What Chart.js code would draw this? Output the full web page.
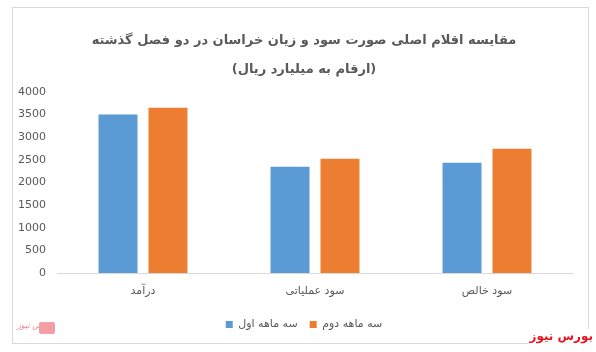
<!DOCTYPE html>
<html>
<head>
<meta charset="utf-8">
<script src="https://cdn.jsdelivr.net/npm/chart.js@4.4.1/dist/chart.umd.min.js"></script>
<style>
  html, body { margin:0; padding:0; background:#fff; }
  body { width:596px; height:352px; position:relative; overflow:hidden; }
  #frame { position:absolute; left:12px; top:7px; width:575px; height:335px; border:1px solid #d9d9d9; }
  #wrap { position:absolute; left:0; top:0; width:596px; height:352px; }
  #wm { position:absolute; right:3px; bottom:8px; font-family:"DejaVu Sans"; font-weight:bold; font-size:12px; color:#e8141e; direction:rtl; line-height:15px; background:#fff; }
  #logo { position:absolute; left:17px; top:321px; font-family:"DejaVu Sans"; font-size:8px; color:#f08a8f; direction:rtl; font-style:italic; }
  #logoBox { position:absolute; left:39px; top:322px; width:16px; height:12px; background:#f2a0a4; border-radius:2px; }
</style>
</head>
<body>
<div id="frame"></div>
<div id="wrap"><canvas id="c" width="596" height="352" dir="rtl"></canvas></div>
<div id="logo">بورس نیوز</div>
<div id="logoBox"></div>
<div id="wm">بورس نیوز</div>
<script>
const categories = ["درآمد", "سود عملیاتی", "سود خالص"];
const seriesNames = ["سه ماهه اول", "سه ماهه دوم"];
const q1Values = [3500, 2350, 2435];
const q2Values = [3650, 2525, 2745];
const titleLines = ["مقایسه اقلام اصلی صورت سود و زیان خراسان در دو فصل گذشته", "(ارقام به میلیارد ریال)"];

const GRAY = "#595959";
const shiftBlocks = {
  id: "shiftBlocks",
  afterLayout(chart) {
    if (chart.titleBlock) chart.titleBlock.left += 23;
    if (chart.legend) chart.legend.left += 23;
  }
};
new Chart(document.getElementById("c"), {
  type: "bar",
  data: {
    labels: categories,
    datasets: [
      { label: seriesNames[0], data: q1Values, backgroundColor: "#5B9BD5", borderWidth: 0 },
      { label: seriesNames[1], data: q2Values, backgroundColor: "#ED7D31", borderWidth: 0 }
    ]
  },
  plugins: [shiftBlocks],
  options: {
    responsive: false,
    animation: false,
    layout: { padding: { left: 12, right: 23, top: 26, bottom: 12 } },
    datasets: { bar: { categoryPercentage: 0.581, barPercentage: 0.78 } },
    plugins: {
      tooltip: { enabled: false },
      title: {
        display: true,
        text: titleLines,
        color: GRAY,
        font: { family: "DejaVu Sans", size: 13, weight: "bold", lineHeight: 2.23 },
        padding: { top: 0, bottom: 8 }
      },
      legend: {
        display: true,
        position: "bottom",
        labels: {
          color: GRAY,
          boxWidth: 7, boxHeight: 7,
          padding: 12,
          font: { family: "DejaVu Sans", size: 11 }
        }
      }
    },
    scales: {
      x: {
        grid: { display: false, drawTicks: false },
        border: { display: true, color: "#d9d9d9", width: 1 },
        ticks: { color: GRAY, font: { family: "DejaVu Sans", size: 11 }, padding: 12 },
        afterFit: s => { s.height = 34; }
      },
      y: {
        min: 0, max: 4000,
        grid: { display: false, drawTicks: false },
        border: { display: false },
        ticks: { stepSize: 500, color: GRAY, font: { family: "DejaVu Sans", size: 11 }, padding: 11,
                 callback: v => String(v) },
        afterFit: s => { s.width = 45; }
      }
    }
  }
});
</script>
</body>
</html>
